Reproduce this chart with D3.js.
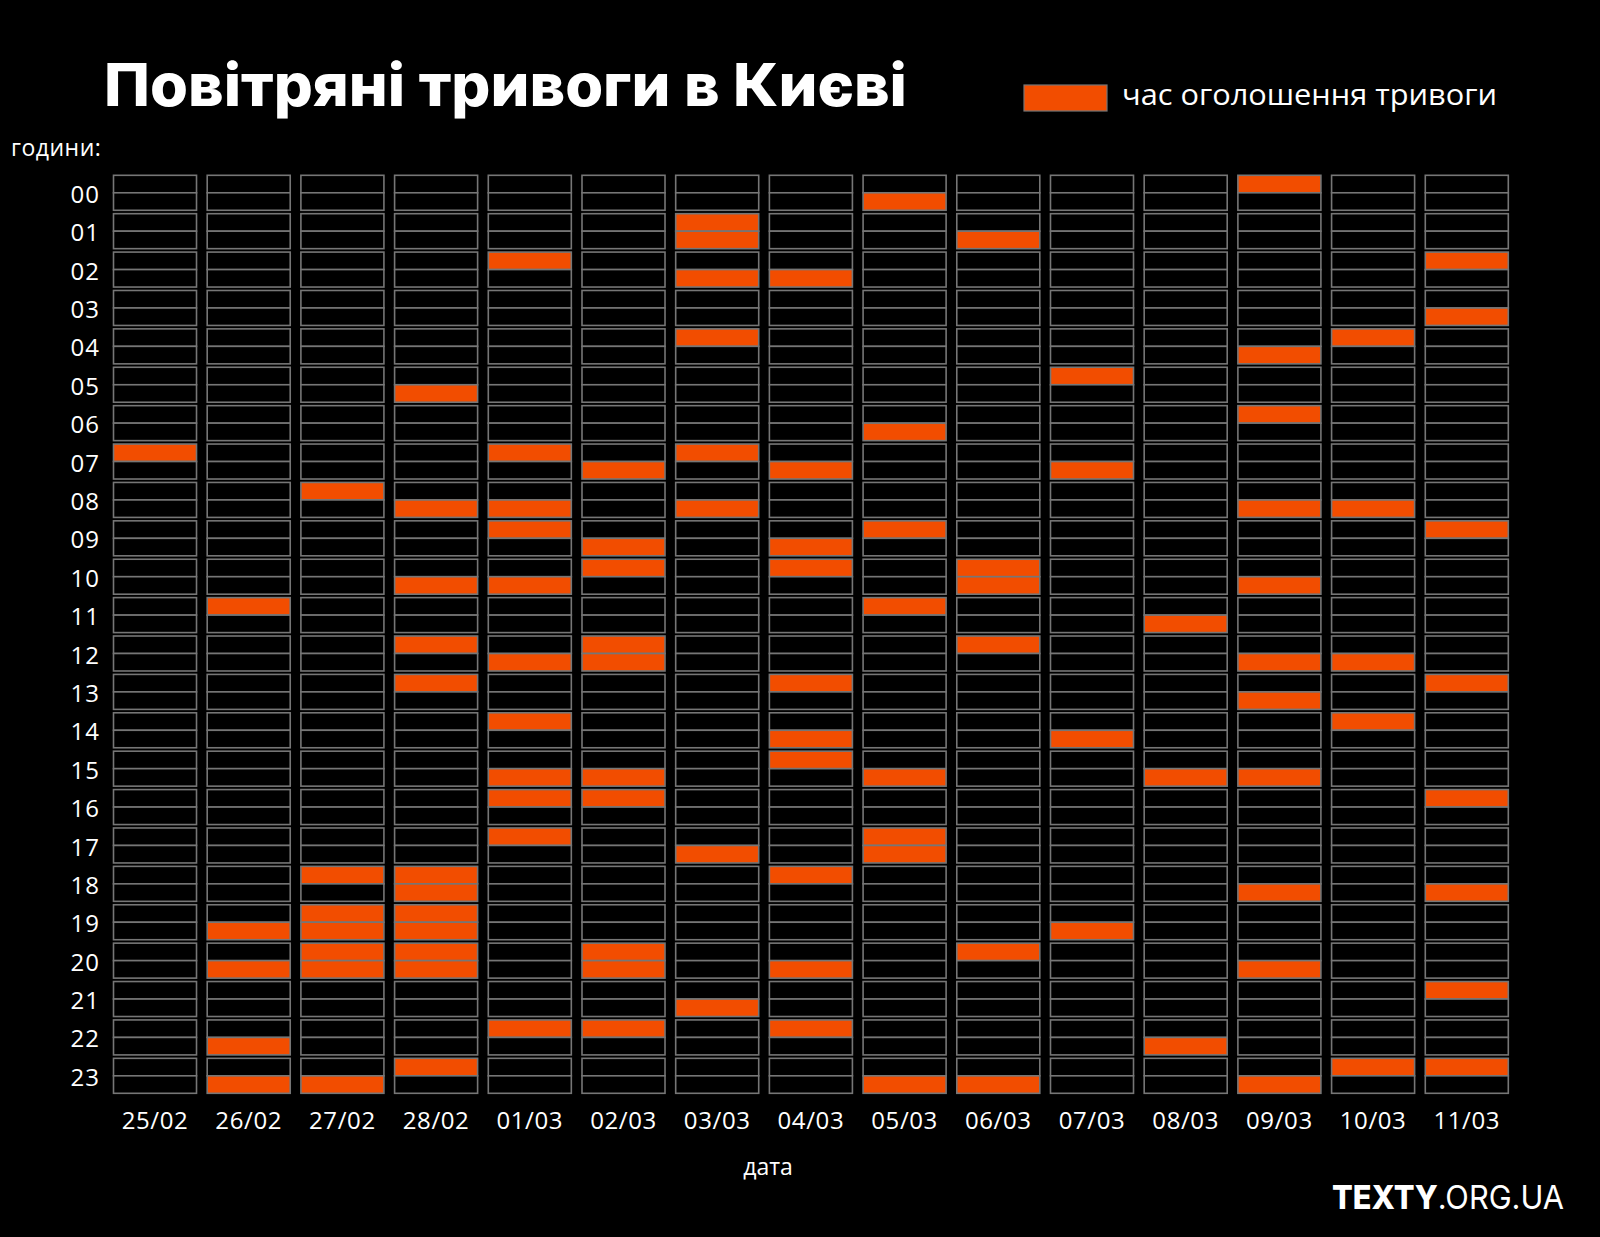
<!DOCTYPE html>
<html>
<head>
<meta charset="utf-8">
<script src="https://cdn.jsdelivr.net/npm/d3@7"></script>
<style>
  html, body { margin: 0; padding: 0; background: #000; }
  svg { display: block; }
</style>
</head>
<body>
<svg id="chart" width="1600" height="1237"></svg>
<script>
// ---- data ----
const days = ["25/02","26/02","27/02","28/02","01/03","02/03","03/03","04/03","05/03","06/03","07/03","08/03","09/03","10/03","11/03"];
const hourLabels = ["00","01","02","03","04","05","06","07","08","09","10","11","12","13","14","15","16","17","18","19","20","21","22","23"];
// alarm start times per day, in hours (x.5 = second half of the hour)
const alarms = [
  [7.0],
  [11.0, 19.5, 20.5, 22.5, 23.5],
  [8.0, 18.0, 19.0, 19.5, 20.0, 20.5, 23.5],
  [5.5, 8.5, 10.5, 12.0, 13.0, 18.0, 18.5, 19.0, 19.5, 20.0, 20.5, 23.0],
  [2.0, 7.0, 8.5, 9.0, 10.5, 12.5, 14.0, 15.5, 16.0, 17.0, 22.0],
  [7.5, 9.5, 10.0, 12.0, 12.5, 15.5, 16.0, 20.0, 20.5, 22.0],
  [1.0, 1.5, 2.5, 4.0, 7.0, 8.5, 17.5, 21.5],
  [2.5, 7.5, 9.5, 10.0, 13.0, 14.5, 15.0, 18.0, 20.5, 22.0],
  [0.5, 6.5, 9.0, 11.0, 15.5, 17.0, 17.5, 23.5],
  [1.5, 10.0, 10.5, 12.0, 20.0, 23.5],
  [5.0, 7.5, 14.5, 19.5],
  [11.5, 15.5, 22.5],
  [0.0, 4.5, 6.0, 8.5, 10.5, 12.5, 13.5, 15.5, 18.5, 20.5, 23.5],
  [4.0, 8.5, 12.5, 14.0, 23.0],
  [2.0, 3.5, 9.0, 13.0, 16.0, 18.5, 21.0, 23.0]
];
const titleText = "Повітряні тривоги в Києві";
const legendText = "час оголошення тривоги";
const yAxisTitle = "години:";
const xAxisTitle = "дата";

// ---- styles ----
const ORANGE = "#f24d00";
const GRID = "#767676";
const FONT = "'Open Sans', 'Noto Sans', sans-serif";

const svg = d3.select("#chart");
svg.append("rect").attr("width", 1600).attr("height", 1237).attr("fill", "#000");

const x = d3.scaleBand().domain(days).range([113.5, 1508.3]).paddingInner(0.114).paddingOuter(0);
const y = d3.scaleBand().domain(d3.range(24)).range([175.3, 1093.3]).paddingInner(0.089).paddingOuter(0);
const half = d3.scaleLinear().domain([0, 1]).range([0, y.bandwidth() / 2]);

// build all half-hour slots
const slots = [];
days.forEach((d, i) => {
  const set = new Set(alarms[i].map(v => Math.round(v * 2)));
  for (let h = 0; h < 24; h++) {
    for (let k = 0; k < 2; k++) {
      slots.push({ day: d, hour: h, half: k, on: set.has(h * 2 + k) });
    }
  }
});

const g = svg.append("g");
g.selectAll("rect.slot")
  .data(slots)
  .join("rect")
  .attr("class", "slot")
  .attr("x", s => x(s.day))
  .attr("y", s => y(s.hour) + half(s.half))
  .attr("width", x.bandwidth())
  .attr("height", y.bandwidth() / 2)
  .attr("fill", s => s.on ? ORANGE : "#000")
  .attr("stroke", GRID)
  .attr("stroke-width", 1.6);

// hour axis
svg.append("g")
  .selectAll("text")
  .data(d3.range(24))
  .join("text")
  .attr("x", 100)
  .attr("y", h => y(h) + y.bandwidth() / 2)
  .attr("dy", "0.42em")
  .attr("text-anchor", "end")
  .attr("fill", "#fff")
  .attr("font-family", FONT)
  .attr("font-size", 24)
  .attr("letter-spacing", 1)
  .text(h => hourLabels[h]);

// date axis
svg.append("g")
  .selectAll("text")
  .data(days)
  .join("text")
  .attr("x", d => x(d) + x.bandwidth() / 2)
  .attr("y", 1129)
  .attr("text-anchor", "middle")
  .attr("fill", "#fff")
  .attr("font-family", FONT)
  .attr("font-size", 24)
  .attr("letter-spacing", 0.6)
  .text(d => d);

svg.append("text")
  .attr("x", 11).attr("y", 156)
  .attr("fill", "#fff").attr("font-family", FONT).attr("font-size", 23)
  .attr("letter-spacing", 0.5)
  .text(yAxisTitle);

svg.append("text")
  .attr("x", 768).attr("y", 1175)
  .attr("text-anchor", "middle")
  .attr("fill", "#fff").attr("font-family", FONT).attr("font-size", 23)
  .text(xAxisTitle);

// title
svg.append("text")
  .attr("x", 104).attr("y", 106)
  .attr("fill", "#fff")
  .attr("font-family", "Inter, 'Open Sans', sans-serif")
  .attr("font-weight", 800)
  .attr("font-size", 59)
  .attr("textLength", 803)
  .attr("lengthAdjust", "spacingAndGlyphs")
  .text(titleText);

// legend
svg.append("rect")
  .attr("x", 1024).attr("y", 85).attr("width", 83).attr("height", 26)
  .attr("fill", ORANGE).attr("stroke", GRID).attr("stroke-width", 1.2);
svg.append("text")
  .attr("x", 1122).attr("y", 105)
  .attr("fill", "#fff").attr("font-family", FONT).attr("font-size", 30)
  .attr("textLength", 375)
  .attr("lengthAdjust", "spacingAndGlyphs")
  .text(legendText);

// footer
const foot = svg.append("text")
  .attr("x", 1332).attr("y", 1209)
  .attr("fill", "#fff")
  .attr("font-family", "Inter, 'Open Sans', sans-serif")
  .attr("font-size", 33)
  .attr("textLength", 232)
  .attr("lengthAdjust", "spacingAndGlyphs");
foot.append("tspan").attr("font-weight", 800).text("TEXTY");
foot.append("tspan").attr("font-weight", 400).text(".ORG.UA");
</script>
</body>
</html>
